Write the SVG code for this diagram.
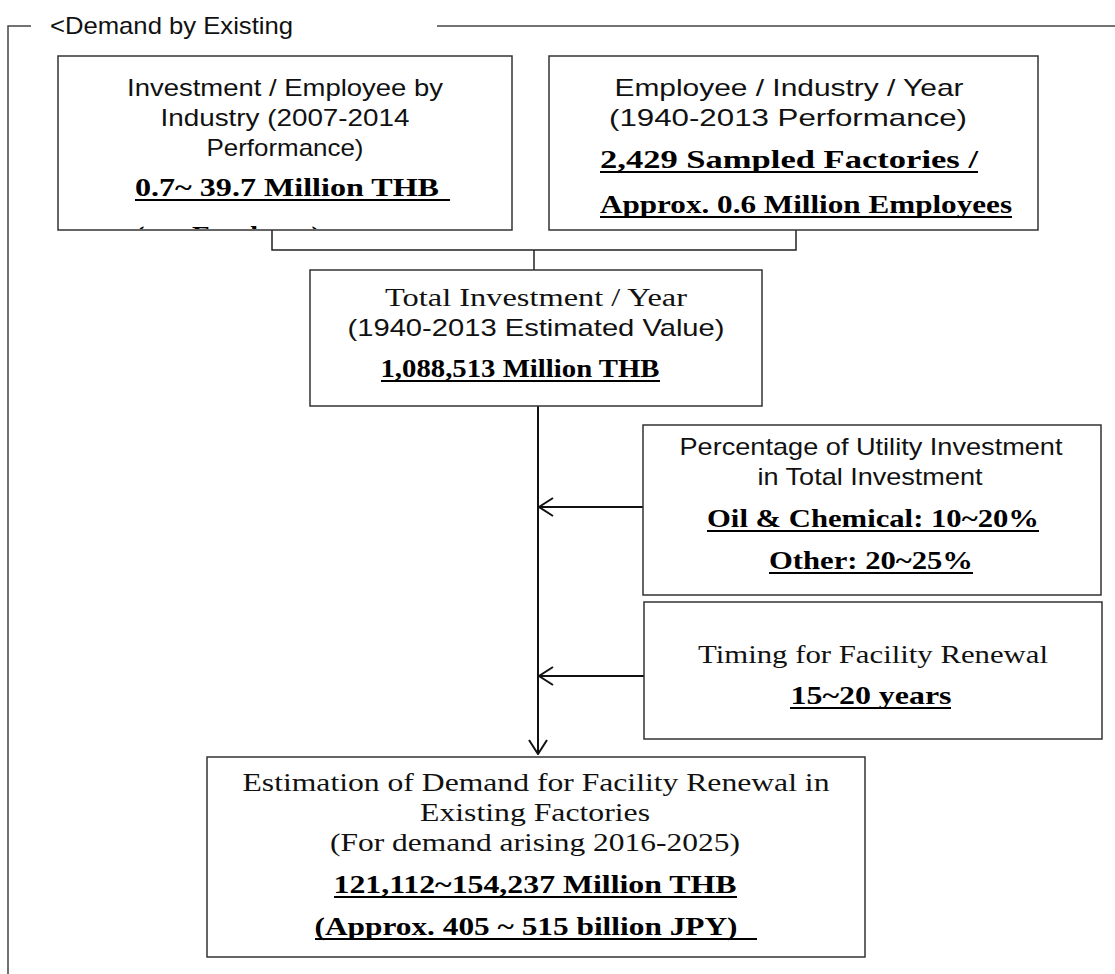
<svg xmlns="http://www.w3.org/2000/svg" width="1115" height="974" viewBox="0 0 1115 974">
  <style>
    .box { fill: #ffffff; stroke: #333333; stroke-width: 1.5; }
    .frame { fill: none; stroke: #444444; stroke-width: 1.5; }
    .link { fill: none; stroke: #222222; stroke-width: 1.5; }
    .flow { fill: none; stroke: #111111; stroke-width: 2; }
    .sans { font-family: "Liberation Sans", Arial, sans-serif; font-size: 24px; fill: #111111; text-anchor: middle; }
    .serif { font-family: "Liberation Serif", "Times New Roman", serif; font-size: 25px; fill: #111111; text-anchor: middle; }
    .val { font-family: "Liberation Serif", "Times New Roman", serif; font-size: 26px; font-weight: bold; fill: #000000; text-anchor: middle; }
    .ul { stroke: #000000; stroke-width: 2; }
    .title { font-family: "Liberation Sans", Arial, sans-serif; font-size: 24px; fill: #111111; }
  </style>
  <defs>
    <marker id="chev" viewBox="0 0 16 20" refX="15" refY="10" markerWidth="16" markerHeight="20" markerUnits="userSpaceOnUse" orient="auto">
      <path d="M1,1 L15,10 L1,19" fill="none" stroke="#111111" stroke-width="2"/>
    </marker>
    <clipPath id="clip-box1">
      <rect x="59" y="57" width="452" height="172"/>
    </clipPath>
  </defs>

  <!-- outer section frame -->
  <g id="frame">
    <polyline class="frame" points="31,26 8,26 8,974"/>
    <line class="frame" x1="437" y1="26" x2="1115" y2="26"/>
    <text class="title" x="50" y="34" textLength="243" lengthAdjust="spacingAndGlyphs">&lt;Demand by Existing</text>
  </g>

  <!-- connectors -->
  <g id="connectors">
    <polyline class="link" points="272,230 272,250 796,250 796,230"/>
    <line class="link" x1="534" y1="250" x2="534" y2="270"/>
    <line class="flow" x1="538" y1="406" x2="538" y2="754" marker-end="url(#chev)"/>
    <line class="flow" x1="643" y1="507" x2="539" y2="507" marker-end="url(#chev)"/>
    <line class="flow" x1="644" y1="676" x2="539" y2="676" marker-end="url(#chev)"/>
  </g>

  <g id="node-investment-employee">
    <rect class="box" x="58" y="56" width="454" height="174"/>
    <text class="sans" x="285" y="96" textLength="316" lengthAdjust="spacingAndGlyphs">Investment / Employee by</text>
    <text class="sans" x="285" y="126" textLength="249" lengthAdjust="spacingAndGlyphs">Industry (2007-2014</text>
    <text class="sans" x="285" y="156" textLength="157" lengthAdjust="spacingAndGlyphs">Performance)</text>
    <text class="val" x="287" y="196" textLength="304" lengthAdjust="spacingAndGlyphs">0.7~ 39.7 Million THB</text>
    <line class="ul" x1="135" y1="200" x2="450" y2="200"/>
    <!-- overflowing last line, cut off by the box edge -->
    <g clip-path="url(#clip-box1)">
      <text class="val" x="135" y="244" style="text-anchor:start" textLength="186" lengthAdjust="spacingAndGlyphs">(per Employee)</text>
    </g>
  </g>

  <g id="node-employee-industry">
    <rect class="box" x="549" y="56" width="489" height="174"/>
    <text class="sans" x="789" y="96" textLength="349" lengthAdjust="spacingAndGlyphs">Employee / Industry / Year</text>
    <text class="sans" x="788" y="126" textLength="358" lengthAdjust="spacingAndGlyphs">(1940-2013 Performance)</text>
    <text class="val" x="789" y="168" textLength="378" lengthAdjust="spacingAndGlyphs">2,429 Sampled Factories /</text>
    <line class="ul" x1="600" y1="172" x2="978" y2="172"/>
    <text class="val" x="806" y="213" textLength="412" lengthAdjust="spacingAndGlyphs">Approx. 0.6 Million Employees</text>
    <line class="ul" x1="600" y1="217" x2="1012" y2="217"/>
  </g>

  <g id="node-total-investment">
    <rect class="box" x="310" y="270" width="452" height="136"/>
    <text class="serif" x="536" y="306" textLength="302" lengthAdjust="spacingAndGlyphs">Total Investment / Year</text>
    <text class="sans" x="536" y="336" textLength="377" lengthAdjust="spacingAndGlyphs">(1940-2013 Estimated Value)</text>
    <text class="val" x="520" y="377" textLength="279" lengthAdjust="spacingAndGlyphs">1,088,513 Million THB</text>
    <line class="ul" x1="381" y1="381" x2="660" y2="381"/>
  </g>

  <g id="node-utility-percentage">
    <rect class="box" x="643" y="425" width="458" height="170"/>
    <text class="sans" x="871" y="455" textLength="383" lengthAdjust="spacingAndGlyphs">Percentage of Utility Investment</text>
    <text class="sans" x="870" y="485" textLength="225" lengthAdjust="spacingAndGlyphs">in Total Investment</text>
    <text class="val" x="873" y="527" textLength="332" lengthAdjust="spacingAndGlyphs">Oil &amp; Chemical: 10~20%</text>
    <line class="ul" x1="707" y1="531" x2="1039" y2="531"/>
    <text class="val" x="871" y="569" textLength="204" lengthAdjust="spacingAndGlyphs">Other: 20~25%</text>
    <line class="ul" x1="769" y1="573" x2="973" y2="573"/>
  </g>

  <g id="node-renewal-timing">
    <rect class="box" x="644" y="602" width="458" height="137"/>
    <text class="serif" x="873" y="663" textLength="350" lengthAdjust="spacingAndGlyphs">Timing for Facility Renewal</text>
    <text class="val" x="871" y="704" textLength="161" lengthAdjust="spacingAndGlyphs">15~20 years</text>
    <line class="ul" x1="790" y1="708" x2="951" y2="708"/>
  </g>

  <g id="node-renewal-demand">
    <rect class="box" x="207" y="757" width="658" height="200"/>
    <text class="serif" x="536" y="791" textLength="587" lengthAdjust="spacingAndGlyphs">Estimation of Demand for Facility Renewal in</text>
    <text class="serif" x="535" y="821" textLength="230" lengthAdjust="spacingAndGlyphs">Existing Factories</text>
    <text class="serif" x="535" y="851" textLength="410" lengthAdjust="spacingAndGlyphs">(For demand arising 2016-2025)</text>
    <text class="val" x="535" y="893" textLength="403" lengthAdjust="spacingAndGlyphs">121,112~154,237 Million THB</text>
    <line class="ul" x1="334" y1="897" x2="737" y2="897"/>
    <text class="val" x="526" y="935" textLength="423" lengthAdjust="spacingAndGlyphs">(Approx. 405 ~ 515 billion JPY)</text>
    <line class="ul" x1="315" y1="939" x2="757" y2="939"/>
  </g>
</svg>
